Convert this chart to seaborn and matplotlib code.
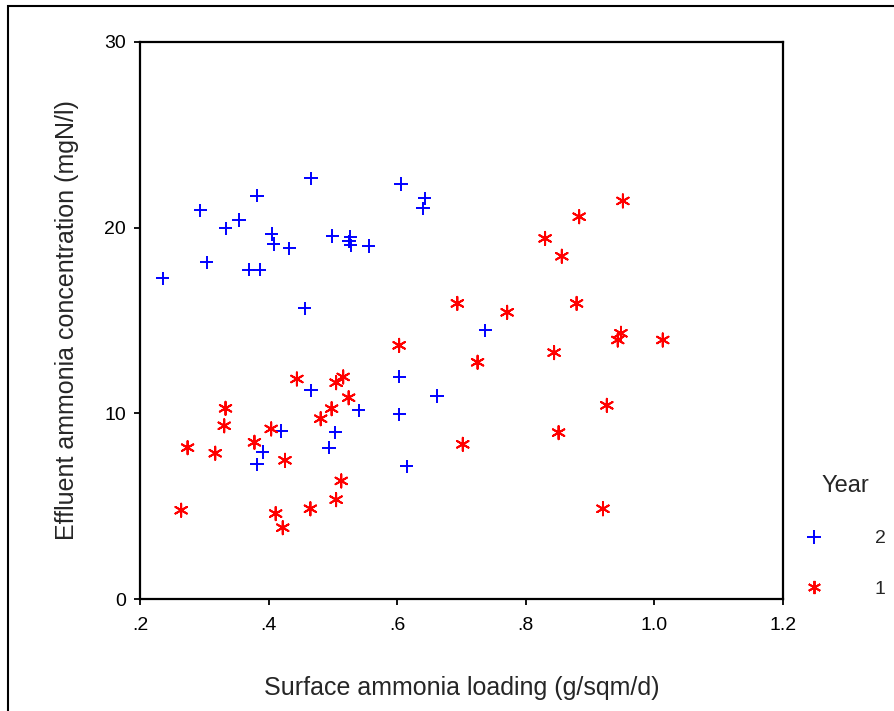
import matplotlib
matplotlib.use("Agg")
import matplotlib.pyplot as plt
import seaborn as sns
import pandas as pd
from matplotlib.patches import Rectangle

# Year 2 (blue +)
x_year2 = [.235, .294, .304, .333, .354, .382, .369, .386, .405, .408, .432, .466, .456,
           .499, .527, .525, .528, .556, .606, .643, .640, .466, .420, .391, .382, .540,
           .504, .494, .603, .603, .662, .615, .737]
y_year2 = [17.27, 20.93, 18.13, 19.97, 20.41, 21.72, 17.74, 17.74, 19.66, 19.12, 18.9, 22.66, 15.66,
           19.55, 19.52, 19.27, 19.05, 19.01, 22.35, 21.58, 21.04, 11.24, 9.05, 7.92, 7.25, 10.16,
           8.98, 8.15, 11.97, 9.95, 10.93, 7.15, 14.47]
# Year 1 (red *)
x_year1 = [.603, .444, .505, .516, .5245, .498, .481, .333, .331, .404, .378, .274, .317, .4255,
           .513, .505, .465, .264, .411, .422, .702, .951, .883, .830, .856, .6935, .771, .879,
           .948, .943, 1.013, .844, .725, .926, .851, .920]
y_year1 = [13.66, 11.85, 11.65, 11.96, 10.84, 10.25, 9.71, 10.27, 9.33, 9.16, 8.44, 8.15, 7.85, 7.47,
           6.36, 5.35, 4.86, 4.78, 4.60, 3.84, 8.33, 21.44, 20.59, 19.42, 18.46, 15.92, 15.44, 15.92,
           14.31, 13.95, 13.95, 13.27, 12.75, 10.43, 8.96, 4.86]

x_ticks = [0.2, 0.4, 0.6, 0.8, 1.0, 1.2]
x_tick_labels = [".2", ".4", ".6", ".8", "1.0", "1.2"]
y_ticks = [0, 10, 20, 30]
y_tick_labels = ["0", "10", "20", "30"]

df = pd.DataFrame({
    "x": x_year2 + x_year1,
    "y": y_year2 + y_year1,
    "Year": ["2"] * len(x_year2) + ["1"] * len(x_year1),
})

sns.set_theme(style="white")
plt.rcParams["font.family"] = ["Liberation Sans", "DejaVu Sans"]

fig = plt.figure(figsize=(8.95, 7.11), dpi=100)
ax = fig.add_axes([140 / 895, 1 - 599 / 711, (783 - 140) / 895, (599 - 42) / 711])

sns.scatterplot(data=df, x="x", y="y", hue="Year", style="Year",
                hue_order=["2", "1"], style_order=["2", "1"],
                palette={"2": "#0000ff", "1": "#ff0000"},
                markers={"2": "+", "1": (6, 2, 0)},
                s=90, linewidth=1.4, ax=ax)

ax.set_xlim(0.2, 1.2)
ax.set_ylim(0, 30)
ax.set_xticks(x_ticks)
ax.set_xticklabels(x_tick_labels)
ax.set_yticks(y_ticks)
ax.set_yticklabels(y_tick_labels)
ax.tick_params(direction="out", length=4, width=1.3, labelsize=14, colors="black",
               bottom=True, left=True, pad=6)
ax.tick_params(axis="x", pad=9)
ax.set_xlabel("Surface ammonia loading (g/sqm/d)", fontsize=18, labelpad=30)
ax.set_ylabel("Effluent ammonia concentration (mgN/l)", fontsize=18, labelpad=18)
for sp in ax.spines.values():
    sp.set_visible(True)
    sp.set_color("black")
    sp.set_linewidth(1.6)

handles, labels = ax.get_legend_handles_labels()
leg = ax.legend(handles, labels, title="Year", loc="upper left",
                bbox_to_anchor=(797 / 895, 1 - 467 / 711), bbox_transform=fig.transFigure,
                frameon=False, fontsize=14, title_fontsize=17, labelspacing=1.7,
                handlelength=1.0, handletextpad=2.6, markerscale=1.0, borderaxespad=0)

fig.add_artist(Rectangle((8 / 895, -0.05), 1.2, 1 - 6 / 711 + 0.05, transform=fig.transFigure,
                         fill=False, edgecolor="black", linewidth=1.5))

fig.savefig("out.png", dpi=100)
